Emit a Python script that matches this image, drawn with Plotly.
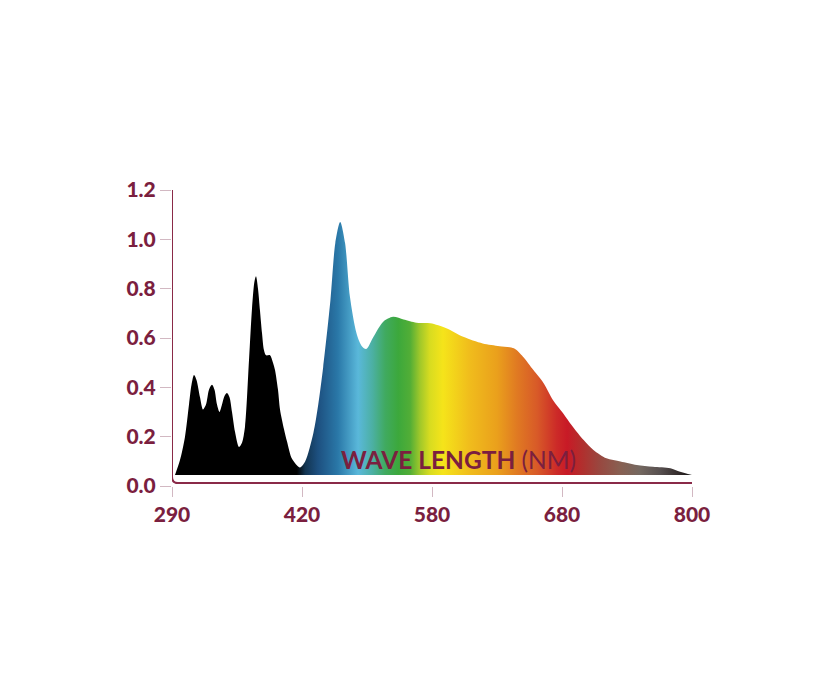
import numpy as np
import plotly.graph_objects as go

# ---- data ----
tick_nm = [290, 420, 580, 680, 800]
tick_labels = ["290", "420", "580", "680", "800"]
y_ticks = [0.0, 0.2, 0.4, 0.6, 0.8, 1.0, 1.2]
y_tick_labels = ["0.0", "0.2", "0.4", "0.6", "0.8", "1.0", "1.2"]

wavelength_nm = [
    293, 298, 303, 307, 309.5, 312, 314.5, 318, 321, 324, 327, 330, 332.5, 335,
    337.5, 340, 342.5, 345, 347.5, 350, 353, 357, 360, 363, 367, 370, 372.5,
    374, 376, 378, 380, 382, 384, 388, 391, 393, 396, 398, 402, 405, 410, 418,
    424, 434, 440, 446, 455, 461, 467, 473, 479, 487, 493, 499, 508, 520, 532,
    545, 561, 578, 591, 604, 619, 632, 643, 650, 658, 666, 673, 681, 690, 700,
    709, 721, 734, 749, 764, 780, 789, 800,
]
intensity = [
    0.045, 0.105, 0.20, 0.33, 0.41, 0.45, 0.43, 0.36, 0.31, 0.33, 0.39, 0.41,
    0.39, 0.33, 0.30, 0.33, 0.365, 0.377, 0.36, 0.30, 0.22, 0.158, 0.175, 0.24,
    0.51, 0.72, 0.83, 0.85, 0.80, 0.71, 0.62, 0.55, 0.53, 0.53, 0.50, 0.47,
    0.39, 0.31, 0.23, 0.18, 0.11, 0.075,
    0.10, 0.215, 0.33, 0.48, 0.754, 0.985, 1.07, 0.985, 0.767, 0.62, 0.57,
    0.555, 0.605, 0.666, 0.686, 0.675, 0.662, 0.66, 0.64, 0.605, 0.578, 0.567,
    0.558, 0.524, 0.47, 0.416, 0.349, 0.295, 0.24, 0.186, 0.146, 0.112, 0.099,
    0.085, 0.078, 0.072, 0.058, 0.045,
]
base_level = 0.045

# ---- styles ----
MAROON = "#7b1f3f"
AXIS_COLOR = "#8a2a48"
TICK_COLOR = "#d2b8c2"
spectrum_scale = [
    [0.000, "#000000"], [0.240, "#000000"], [0.256, "#123450"],
    [0.281, "#1d5080"], [0.319, "#2a78a8"], [0.358, "#5ab8da"],
    [0.385, "#4cb0a4"], [0.410, "#40aa60"], [0.435, "#3ca83c"],
    [0.458, "#52ae36"], [0.477, "#a0c82a"], [0.496, "#d8dc20"],
    [0.521, "#f5e41a"], [0.573, "#f0bc1c"], [0.625, "#eaa01c"],
    [0.663, "#e07a22"], [0.702, "#d85a28"], [0.740, "#cc2a28"],
    [0.760, "#c81a26"], [0.790, "#b0302e"], [0.823, "#984840"],
    [0.862, "#886052"], [0.900, "#746860"], [0.938, "#585050"],
    [0.977, "#302828"], [1.000, "#101010"],
]

# piecewise scale: tick labels are equally spaced on the axis
tick_pos = list(range(len(tick_nm)))
x_pos = np.interp(wavelength_nm, tick_nm, tick_pos)

fig = go.Figure()
fig.add_trace(go.Scatter(
    x=x_pos, y=[base_level] * len(x_pos), mode="lines",
    line=dict(width=0, color="rgba(0,0,0,0)"), hoverinfo="skip", showlegend=False,
))
fig.add_trace(go.Scatter(
    x=x_pos, y=intensity, mode="lines", fill="tonexty",
    line=dict(width=0, shape="spline", smoothing=0.8, color="rgba(0,0,0,0)"),
    fillgradient=dict(type="horizontal", colorscale=spectrum_scale,
                      start=tick_pos[0], stop=tick_pos[-1]),
    showlegend=False,
))

# axis lines with rounded corner
y0 = 0.012
fig.add_shape(
    type="path", xref="x", yref="y",
    path=f"M 0,1.2 L 0,{y0 + 0.026} Q 0,{y0} 0.045,{y0} L {tick_pos[-1]},{y0}",
    line=dict(color=AXIS_COLOR, width=2), layer="above",
)

fig.add_annotation(
    x=0.55, y=0.09, xref="paper", yref="paper",
    text="<b>WAVE LENGTH</b> (NM)", showarrow=False,
    font=dict(family="Lato", size=24.5, color=MAROON),
    xanchor="center", yanchor="middle",
)

tick_font = dict(family="Lato", size=21, color=MAROON, weight=900)
fig.update_xaxes(
    range=[tick_pos[0], tick_pos[-1]], tickvals=tick_pos, ticktext=tick_labels,
    showgrid=False, zeroline=False, showline=False,
    ticks="outside", ticklen=10, tickwidth=1, tickcolor=TICK_COLOR,
    tickfont=tick_font,
)
fig.update_yaxes(
    range=[0, 1.2], tickvals=y_ticks, ticktext=y_tick_labels,
    showgrid=False, zeroline=False, showline=False,
    ticks="outside", ticklen=11, tickwidth=1, tickcolor=TICK_COLOR,
    tickfont=tick_font,
)
fig.update_layout(
    width=840, height=700,
    margin=dict(l=164, r=156, t=182, b=222),
    plot_bgcolor="white", paper_bgcolor="white",
)
fig.write_html("out.html", config={"displayModeBar": False})
